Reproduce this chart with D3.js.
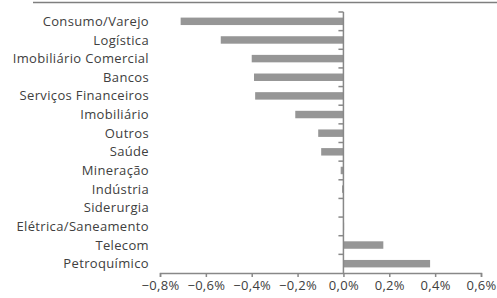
<!DOCTYPE html>
<html>
<head>
<meta charset="utf-8">
<script src="https://cdn.jsdelivr.net/npm/d3@7"></script>
<style>
  body { margin: 0; background: #fff; }
  svg { display: block; }
</style>
</head>
<body>
<div id="chart"></div>
<script>
// data (values in %)
const sectors = ['Consumo/Varejo', 'Logística', 'Imobiliário Comercial', 'Bancos',
  'Serviços Financeiros', 'Imobiliário', 'Outros', 'Saúde', 'Mineração', 'Indústria',
  'Siderurgia', 'Elétrica/Saneamento', 'Telecom', 'Petroquímico'];
const contrib = [-0.71, -0.535, -0.40, -0.39, -0.385, -0.21, -0.11, -0.097, -0.012,
  -0.006, -0.001, 0.003, 0.174, 0.378];
const xTicks = [-0.8, -0.6, -0.4, -0.2, 0.0, 0.2, 0.4, 0.6];

const width = 497, height = 298;
const plot = { left: 160, right: 481, top: 12, bottom: 273 };
const axisColor = '#888888';
const textColor = '#404040';

const data = sectors.map((s, i) => ({ sector: s, value: contrib[i] }));

const svg = d3.select('#chart')
  .append('svg')
  .attr('width', width)
  .attr('height', height)
  .style('font-family', '"Open Sans", sans-serif');

const x = d3.scaleLinear()
  .domain([-0.8, 0.6])
  .range([plot.left, plot.right]);

const y = d3.scaleBand()
  .domain(sectors)
  .range([plot.top, plot.bottom])
  .paddingInner(0.6)
  .paddingOuter(0.3);

// thin rule across the top
svg.append('line')
  .attr('x1', 33).attr('x2', width)
  .attr('y1', 2.5).attr('y2', 2.5)
  .attr('stroke', '#7f7f7f')
  .attr('stroke-width', 1.5);

// bars
svg.selectAll('.bar')
  .data(data)
  .enter()
  .append('rect')
  .attr('class', 'bar')
  .attr('x', d => x(Math.min(0, d.value)))
  .attr('y', d => y(d.sector))
  .attr('width', d => Math.abs(x(d.value) - x(0)))
  .attr('height', y.bandwidth())
  .attr('fill', '#969696');

// x axis
const xAxis = svg.append('g')
  .attr('transform', `translate(0, ${plot.bottom})`)
  .call(d3.axisBottom(x)
    .tickValues(xTicks)
    .tickSize(4)
    .tickPadding(4)
    .tickFormat(d => d3.format('.1f')(d).replace('.', ',') + '%'));
xAxis.select('.domain').attr('stroke', axisColor).attr('stroke-width', 1.5);
xAxis.selectAll('.tick line').attr('stroke', axisColor).attr('stroke-width', 1.5);
xAxis.selectAll('.tick text')
  .attr('fill', textColor)
  .style('font-size', '13px')
  .style('letter-spacing', '0.3px')
  .style('font-family', '"Open Sans", sans-serif');

// vertical axis at zero, ticks between categories
const step = y.step();
const boundaries = d3.range(sectors.length).map(i => plot.top + i * step);
svg.append('line')
  .attr('x1', x(0)).attr('x2', x(0))
  .attr('y1', plot.top).attr('y2', plot.bottom)
  .attr('stroke', axisColor)
  .attr('stroke-width', 1.5);
svg.selectAll('.ytick')
  .data(boundaries)
  .enter()
  .append('line')
  .attr('class', 'ytick')
  .attr('x1', x(0) - 5).attr('x2', x(0))
  .attr('y1', d => d).attr('y2', d => d)
  .attr('stroke', axisColor)
  .attr('stroke-width', 1.5);

// category labels, right aligned at the left of the plot
svg.selectAll('.label')
  .data(sectors)
  .enter()
  .append('text')
  .attr('class', 'label')
  .attr('x', 149)
  .attr('y', d => y(d) + y.bandwidth() / 2)
  .attr('dy', '0.35em')
  .attr('text-anchor', 'end')
  .attr('fill', textColor)
  .style('font-size', '13px')
  .style('letter-spacing', '0.35px')
  .text(d => d);
</script>
</body>
</html>
